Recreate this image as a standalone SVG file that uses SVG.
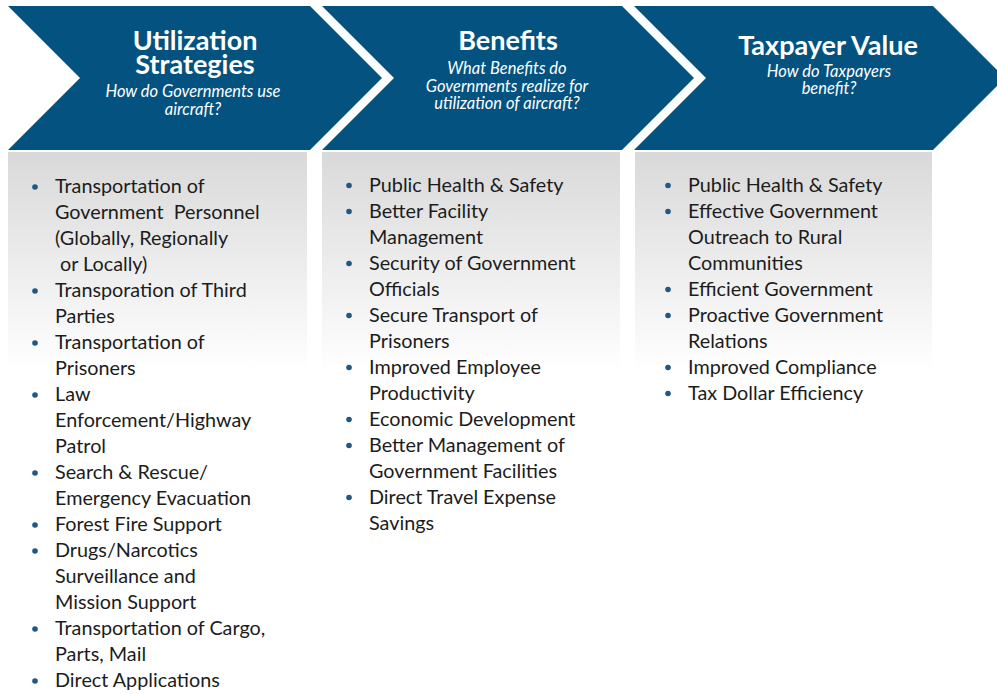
<svg xmlns="http://www.w3.org/2000/svg" width="997" height="694" viewBox="0 0 997 694">
  <defs>
    <linearGradient id="panelFill" x1="0" y1="0" x2="0" y2="1">
      <stop offset="0" stop-color="#d9d9d9"/>
      <stop offset="1" stop-color="#ffffff"/>
    </linearGradient>
  </defs>
  <style>
    .chev { fill: #03527f; }
    .panel { fill: url(#panelFill); }
    .title { font-family: Lato, "Liberation Sans", sans-serif; font-weight: bold; font-size: 27px; fill: #ffffff; text-anchor: middle; }
    .sub { font-family: Lato, "Liberation Sans", sans-serif; font-style: italic; font-size: 16.5px; fill: #ffffff; text-anchor: middle; }
    .item { font-family: Lato, "Liberation Sans", sans-serif; font-size: 19.8px; fill: #1c1c1c; }
    .dot { fill: #1f5785; }
  </style>
  <rect width="997" height="694" fill="#ffffff"/>

  <!-- Column 1: Utilization Strategies -->
  <g id="utilization">
    <path class="chev" d="M8,6 L310,6 L382,78 L310,150 L8,150 L80,78 Z"/>
    <rect class="panel" x="8" y="152" width="299" height="220"/>
    <text class="title" x="195" y="50">Utilization</text>
    <text class="title" x="195" y="74">Strategies</text>
    <text class="sub" x="193" y="97">How do Governments use</text>
    <text class="sub" x="193" y="115">aircraft?</text>
    <g class="dot">
      <circle cx="35" cy="187" r="2.8"/>
      <circle cx="35" cy="291" r="2.8"/>
      <circle cx="35" cy="343" r="2.8"/>
      <circle cx="35" cy="395" r="2.8"/>
      <circle cx="35" cy="473" r="2.8"/>
      <circle cx="35" cy="525" r="2.8"/>
      <circle cx="35" cy="551" r="2.8"/>
      <circle cx="35" cy="629" r="2.8"/>
      <circle cx="35" cy="681" r="2.8"/>
    </g>
    <text class="item" x="55" y="193">Transportation of</text>
    <text class="item" x="55" y="219" xml:space="preserve">Government  Personnel</text>
    <text class="item" x="55" y="245">(Globally, Regionally</text>
    <text class="item" x="60" y="271">or Locally)</text>
    <text class="item" x="55" y="297">Transporation of Third</text>
    <text class="item" x="55" y="323">Parties</text>
    <text class="item" x="55" y="349">Transportation of</text>
    <text class="item" x="55" y="375">Prisoners</text>
    <text class="item" x="55" y="401">Law</text>
    <text class="item" x="55" y="427">Enforcement/Highway</text>
    <text class="item" x="55" y="453">Patrol</text>
    <text class="item" x="55" y="479">Search &amp; Rescue/</text>
    <text class="item" x="55" y="505">Emergency Evacuation</text>
    <text class="item" x="55" y="531">Forest Fire Support</text>
    <text class="item" x="55" y="557">Drugs/Narcotics</text>
    <text class="item" x="55" y="583">Surveillance and</text>
    <text class="item" x="55" y="609">Mission Support</text>
    <text class="item" x="55" y="635">Transportation of Cargo,</text>
    <text class="item" x="55" y="661">Parts, Mail</text>
    <text class="item" x="55" y="687">Direct Applications</text>
  </g>

  <!-- Column 2: Benefits -->
  <g id="benefits">
    <path class="chev" d="M322,6 L622,6 L694,78 L622,150 L322,150 L394,78 Z"/>
    <rect class="panel" x="322" y="152" width="298" height="220"/>
    <text class="title" x="508" y="50">Benefits</text>
    <text class="sub" x="507" y="74">What Benefits do</text>
    <text class="sub" x="507" y="91.5">Governments realize for</text>
    <text class="sub" x="507" y="109">utilization of aircraft?</text>
    <g class="dot">
      <circle cx="349" cy="185.5" r="2.8"/>
      <circle cx="349" cy="211.5" r="2.8"/>
      <circle cx="349" cy="263.5" r="2.8"/>
      <circle cx="349" cy="315.5" r="2.8"/>
      <circle cx="349" cy="367.5" r="2.8"/>
      <circle cx="349" cy="419.5" r="2.8"/>
      <circle cx="349" cy="445.5" r="2.8"/>
      <circle cx="349" cy="497.5" r="2.8"/>
    </g>
    <text class="item" x="369" y="191.5">Public Health &amp; Safety</text>
    <text class="item" x="369" y="217.5">Better Facility</text>
    <text class="item" x="369" y="243.5">Management</text>
    <text class="item" x="369" y="269.5">Security of Government</text>
    <text class="item" x="369" y="295.5">Officials</text>
    <text class="item" x="369" y="321.5">Secure Transport of</text>
    <text class="item" x="369" y="347.5">Prisoners</text>
    <text class="item" x="369" y="373.5">Improved Employee</text>
    <text class="item" x="369" y="399.5">Productivity</text>
    <text class="item" x="369" y="425.5">Economic Development</text>
    <text class="item" x="369" y="451.5">Better Management of</text>
    <text class="item" x="369" y="477.5">Government Facilities</text>
    <text class="item" x="369" y="503.5">Direct Travel Expense</text>
    <text class="item" x="369" y="529.5">Savings</text>
  </g>

  <!-- Column 3: Taxpayer Value -->
  <g id="taxpayer-value">
    <path class="chev" d="M634,6 L933,6 L1005,78 L933,150 L634,150 L706,78 Z"/>
    <rect class="panel" x="635" y="152" width="297" height="220"/>
    <text class="title" x="828" y="55">Taxpayer Value</text>
    <text class="sub" x="829" y="77">How do Taxpayers</text>
    <text class="sub" x="829" y="94">benefit?</text>
    <g class="dot">
      <circle cx="668" cy="185.5" r="2.8"/>
      <circle cx="668" cy="211.5" r="2.8"/>
      <circle cx="668" cy="289.5" r="2.8"/>
      <circle cx="668" cy="315.5" r="2.8"/>
      <circle cx="668" cy="367.5" r="2.8"/>
      <circle cx="668" cy="393.5" r="2.8"/>
    </g>
    <text class="item" x="688" y="191.5">Public Health &amp; Safety</text>
    <text class="item" x="688" y="217.5">Effective Government</text>
    <text class="item" x="688" y="243.5">Outreach to Rural</text>
    <text class="item" x="688" y="269.5">Communities</text>
    <text class="item" x="688" y="295.5">Efficient Government</text>
    <text class="item" x="688" y="321.5">Proactive Government</text>
    <text class="item" x="688" y="347.5">Relations</text>
    <text class="item" x="688" y="373.5">Improved Compliance</text>
    <text class="item" x="688" y="399.5">Tax Dollar Efficiency</text>
  </g>

  <!-- no connectors: the chevrons themselves carry the flow -->
  <g id="connectors"/>
</svg>
